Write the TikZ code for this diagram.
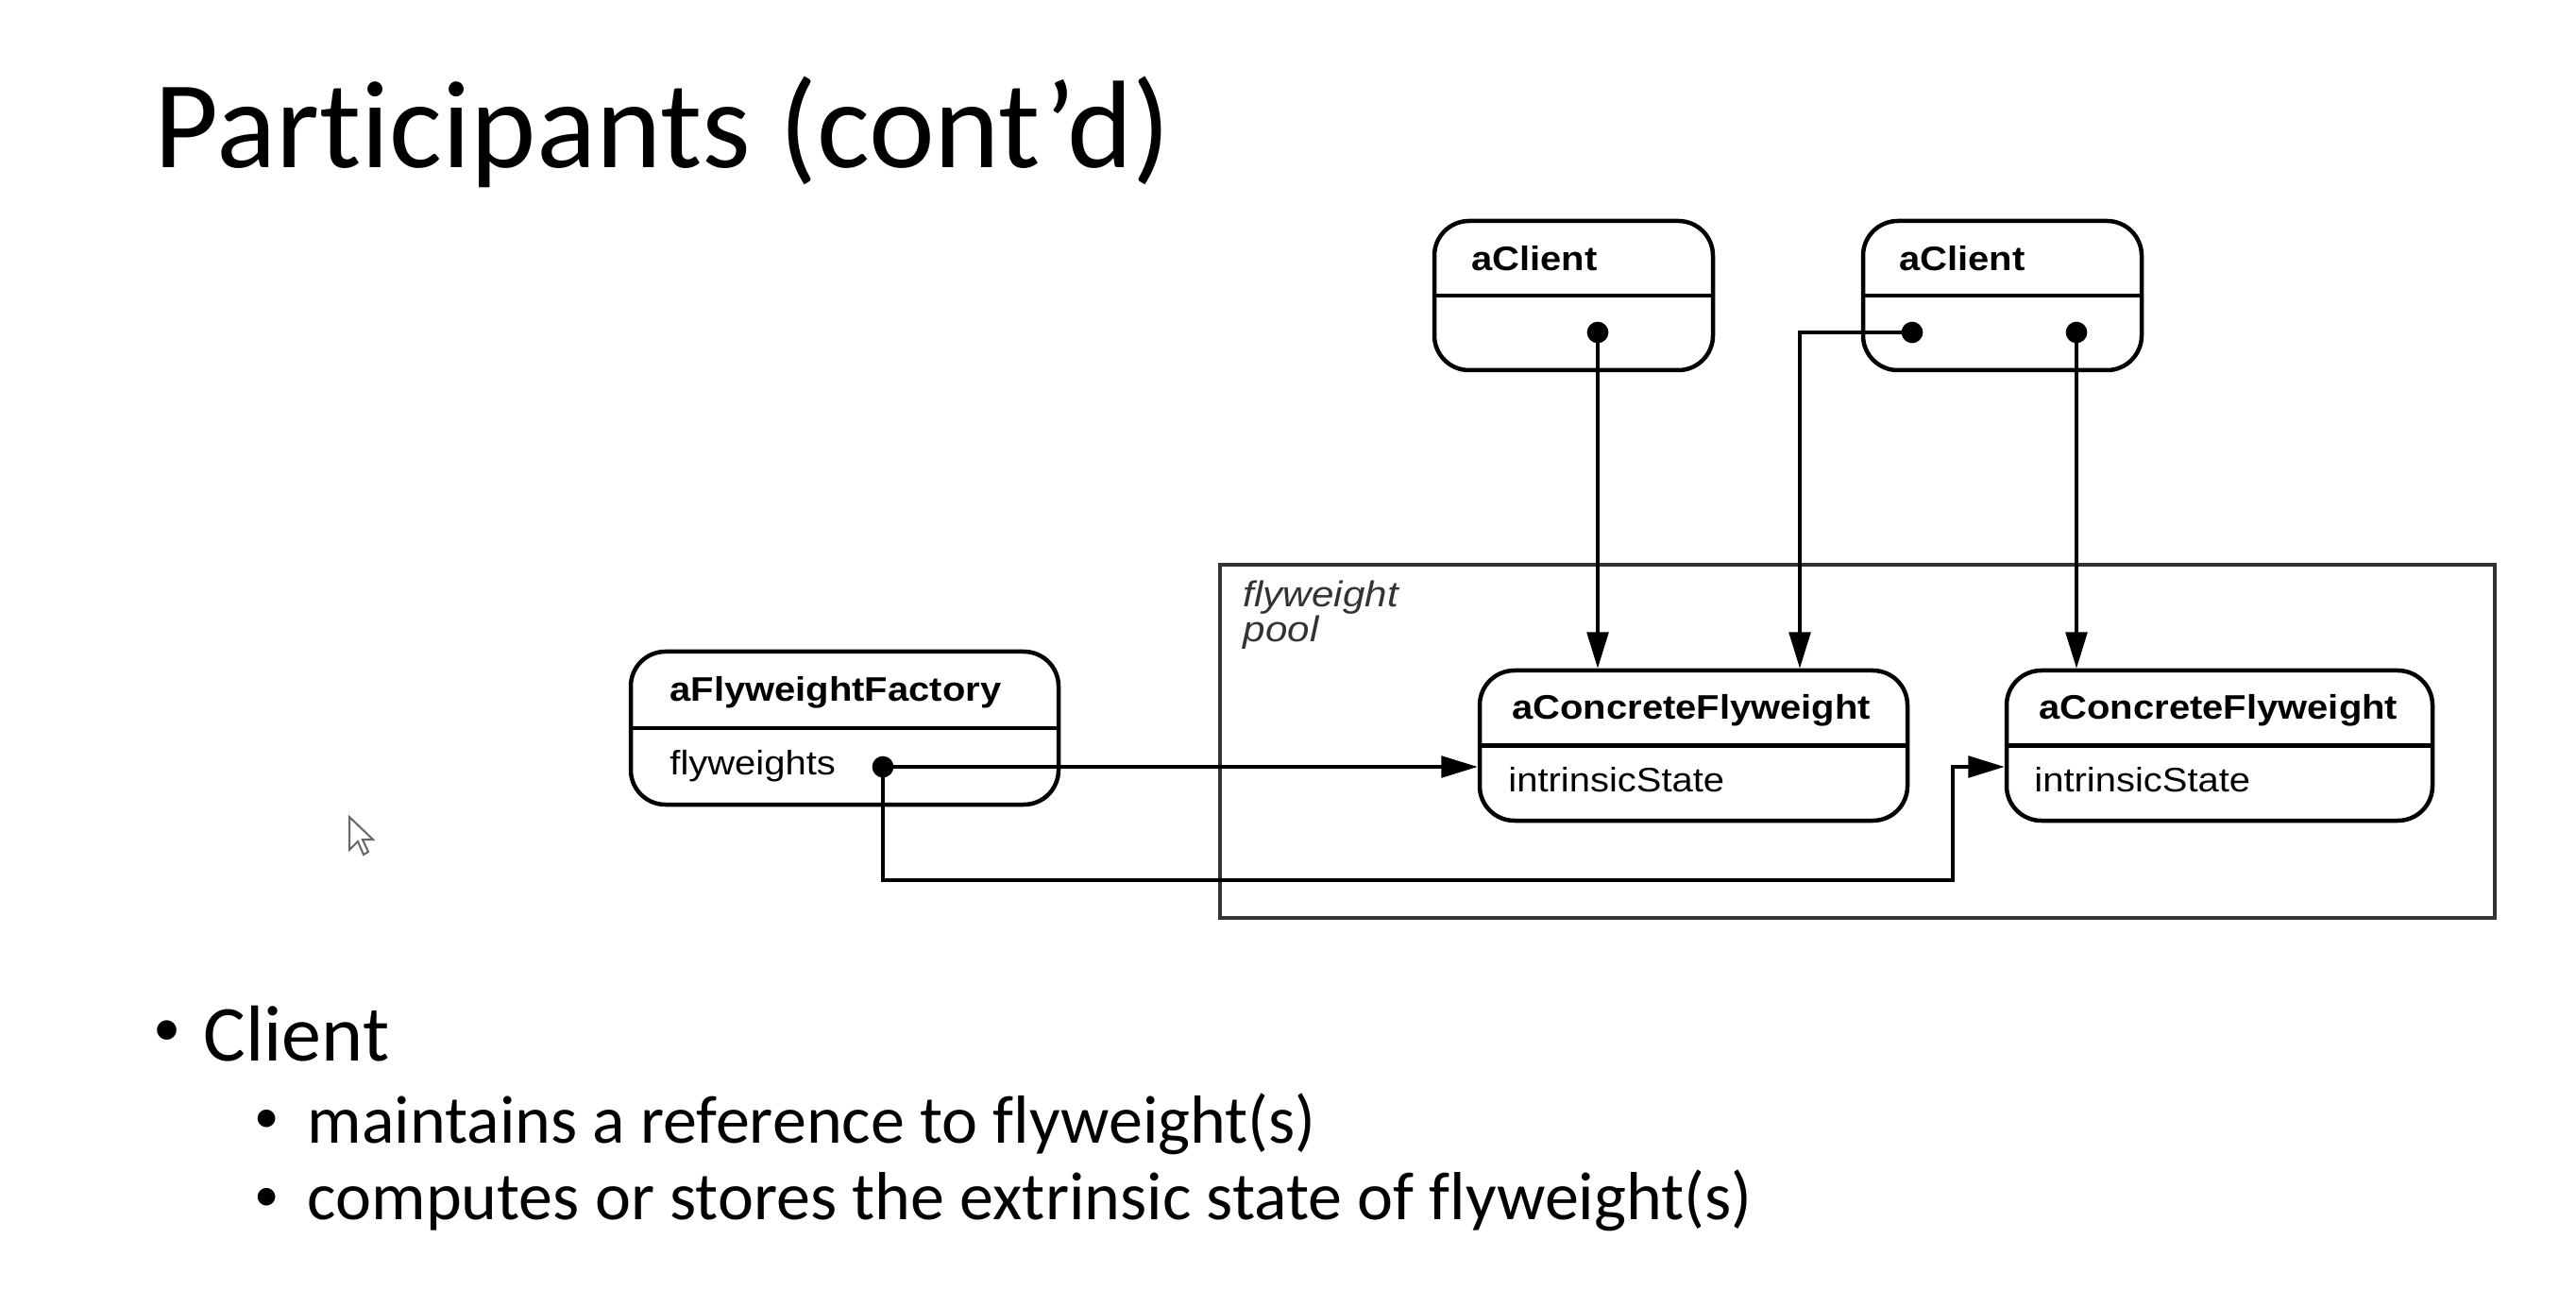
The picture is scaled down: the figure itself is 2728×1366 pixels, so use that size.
\documentclass[tikz,border=0pt]{standalone}
\usepackage{fontspec}
\setmainfont[Ligatures={NoCommon,NoContextual},RawFeature={-liga;-clig;-dlig}]{Carlito}
\newfontfamily\diagfont[FakeStretch=1.11]{Liberation Sans}
\usetikzlibrary{arrows.meta,calc}
\begin{document}
\begin{tikzpicture}[x=0.3pt,y=-0.3pt,
  box/.style={draw,line width=1.35pt,rounded corners=11pt,inner sep=0pt},
  pool/.style={draw=black!80,line width=1pt,inner sep=0pt},
  conn/.style={line width=1.05pt,-{Triangle[length=11.5pt,width=6.8pt]}},
  lbl/.style={inner sep=0pt,anchor=base west,font=\diagfont\fontsize{10.8pt}{13pt}\selectfont},
  blbl/.style={lbl,font=\diagfont\bfseries\fontsize{10.8pt}{13pt}\selectfont},
  ilbl/.style={lbl,text=black!80,font=\diagfont\itshape\fontsize{11.4pt}{13pt}\selectfont},
  dotc/.style={circle,fill,inner sep=0pt,minimum size=6.8pt},
  titletxt/.style={inner sep=0pt,anchor=base west,font=\fontsize{39.6pt}{48pt}\selectfont},
  lvlone/.style={inner sep=0pt,anchor=base west,font=\fontsize{25.2pt}{30pt}\selectfont},
  lvltwo/.style={inner sep=0pt,anchor=base west,font=\fontsize{21.6pt}{26pt}\selectfont},
  bulone/.style={inner sep=0pt,anchor=base west,font=\fontsize{17.5pt}{20pt}\selectfont},
  bultwo/.style={inner sep=0pt,anchor=base west,font=\fontsize{15.8pt}{18pt}\selectfont}
]
\fill[white] (0,0) rectangle (2728,1366);
\useasboundingbox (0,0) rectangle (2728,1366);

% title
\node[titletxt] (title) at (163,178) {Participants (cont’d)};

% pool
\node[pool,minimum width={1350*0.3pt},minimum height={374*0.3pt}] (pool) at (1967,785) {};
\node[ilbl] (pl1) at (1316,643) {flyweight};
\node[ilbl] (pl2) at (1316,679) {pool};

% boxes
\node[box,minimum width={453*0.3pt},minimum height={162*0.3pt}] (f) at (894.5,771) {};
\node[box,minimum width={453*0.3pt},minimum height={159*0.3pt}] (c1) at (1793.5,789.5) {};
\node[box,minimum width={451*0.3pt},minimum height={159*0.3pt}] (c2) at (2350.5,789.5) {};
\node[box,minimum width={295*0.3pt},minimum height={158*0.3pt}] (a1) at (1666.5,313) {};
\node[box,minimum width={295*0.3pt},minimum height={158*0.3pt}] (a2) at (2120.5,313) {};

\foreach \b in {f,c1,c2,a1,a2}{\draw[line width=1.35pt] (\b.west) -- (\b.east);}

% labels
\node[blbl] (ft) at ($(f.north west)+(43,55)$) {aFlyweightFactory};
\node[lbl] (fa) at ($(f.north west)+(43,133)$) {flyweights};
\node[blbl] (c1t) at ($(c1.north west)+(36,54)$) {aConcreteFlyweight};
\node[lbl] (c1a) at ($(c1.north west)+(32,131)$) {intrinsicState};
\node[blbl] (c2t) at ($(c2.north west)+(36,54)$) {aConcreteFlyweight};
\node[lbl] (c2a) at ($(c2.north west)+(31,131)$) {intrinsicState};
\node[blbl] (a1t) at ($(a1.north west)+(41,55)$) {aClient};
\node[blbl] (a2t) at ($(a2.north west)+(40,55)$) {aClient};

% dots
\node[dotc] (fd) at (935,812) {};
\node[dotc] (d1) at (1692,352) {};
\node[dotc] (d2) at (2025,352) {};
\node[dotc] (d3) at (2199,352) {};
\coordinate (k2) at (1906,352);
\coordinate (lowR) at (2068,932);

% connectors
\draw[conn] (fd.center) -- (fd.center -| c1.west);
\draw[conn] (fd.center) |- (lowR) -- (lowR |- fd.center) -- (fd.center -| c2.west);
\draw[conn] (d1.center) -- (d1.center |- c1.north);
\draw[conn] (d2.center) -- (k2) -- (k2 |- c1.north);
\draw[conn] (d3.center) -- (d3.center |- c2.north);

% cursor
\draw[black!60,line width=0.6pt,fill=white,line join=miter]
  (370,865) -- ++(0,35) -- ++(9,-9) -- ++(6,14) -- ++(5,-3) -- ++(-6,-13) -- ++(11,0) -- cycle;

% bullets
\node[bulone] (b1) at (162,1107) {•};
\node[lvlone] (t1) at (215,1123) {Client};
\node[bultwo] (b2) at (269,1199) {•};
\node[lvltwo] (t2) at (325,1210) {maintains a reference to flyweight(s)};
\node[bultwo] (b3) at (269,1282) {•};
\node[lvltwo] (t3) at (325,1291) {computes or stores the extrinsic state of flyweight(s)};
\end{tikzpicture}
\end{document}
